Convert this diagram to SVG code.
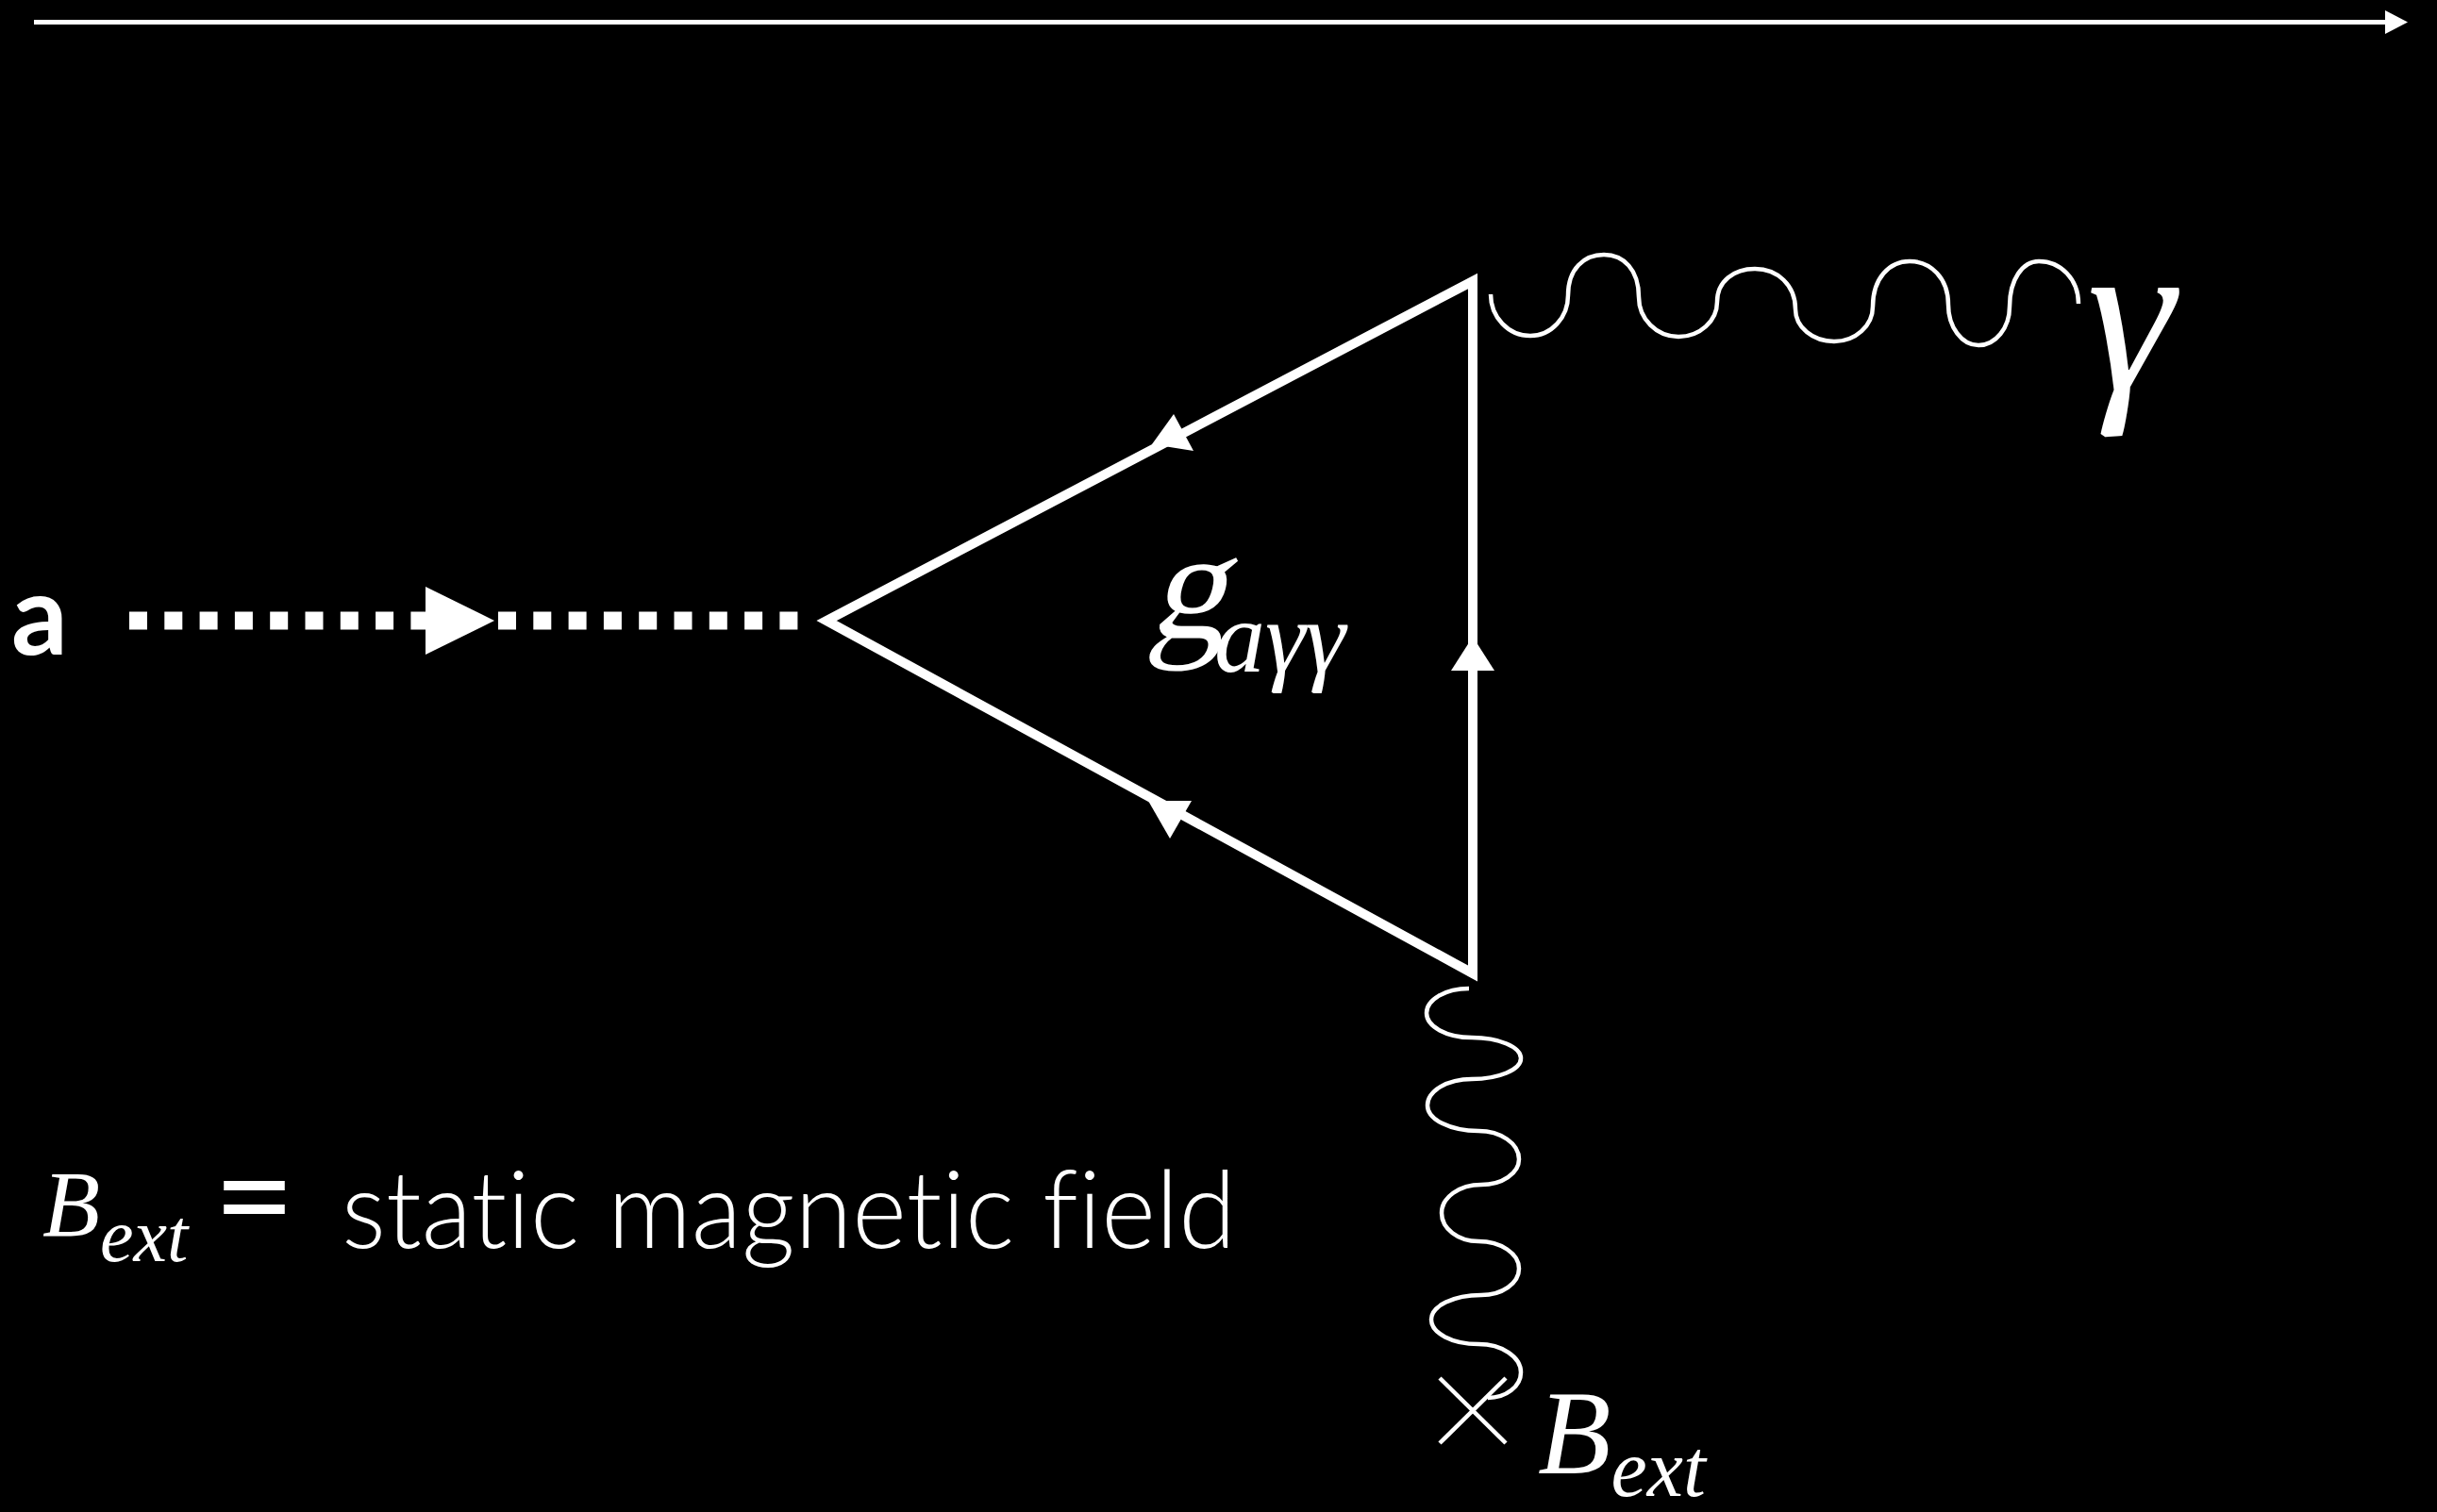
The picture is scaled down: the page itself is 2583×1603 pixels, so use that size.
<svg xmlns="http://www.w3.org/2000/svg" width="2583" height="1603" viewBox="0 0 2583 1603">
<style>
.ln{stroke:#fff;fill:none}
.ah{fill:#fff;stroke:none}
.it{font-family:"Liberation Serif","Times New Roman",serif;font-style:italic;fill:#fff}
.rm{font-family:"Liberation Serif","Times New Roman",serif;fill:#fff}
.sans{font-family:Lato,"Open Sans",sans-serif;fill:#fff;font-variant-ligatures:none;font-feature-settings:"liga" 0}
</style>
<rect x="0" y="0" width="2583" height="1603" fill="#000"/>
<g id="connectors">
  <g id="time-axis">
    <line class="ln" x1="36" y1="23.5" x2="2530" y2="23.5" stroke-width="5"/>
    <polygon class="ah" points="2528,11 2552,23.5 2528,36"/>
  </g>
  <g id="axion-line">
    <line class="ln" x1="137" y1="658" x2="455" y2="658" stroke-width="19" stroke-dasharray="19 18.3"/>
    <line class="ln" x1="528" y1="658" x2="847" y2="658" stroke-width="19" stroke-dasharray="19 18.3"/>
    <polygon class="ah" points="451,622 524,658 451,694"/>
  </g>
  <g id="fermion-loop">
    <path class="ln" d="M1561 1032 L876 658 L1561 298 Z" stroke-width="10" stroke-linejoin="miter" stroke-miterlimit="6"/>
    <polygon class="ah" points="1244,439 1221,471 1265,478"/>
    <polygon class="ah" points="1217,849 1263,849 1240,889"/>
    <polygon class="ah" points="1561,675 1538,711 1584,711"/>
  </g>
  <g id="photon-out">
    <path class="ln" stroke-width="4.5" d="M1580 312 C1580 336.3 1598.8 356 1622 356 C1644.1 356 1662 336.7 1662 313 C1662 285 1679 270 1700 270 C1721 270 1737 286 1737 315 C1737 338.2 1755.8 357 1779 357 C1801.6 357 1820 340.4 1820 320 C1820 298 1837.9 285 1860 285 C1883.7 285 1903 302 1903 328 C1903 346.8 1921.4 362 1944 362 C1966.6 362 1985 345.4 1985 325 C1985 295 2002.5 277 2024 277 C2046.6 277 2065 295 2065 323 C2065 346.7 2079.3 366 2097 366 C2115.2 366 2130 347.6 2130 325 C2130 296 2143.9 277 2161 277 C2184.2 277 2203 296 2203 322"/>
  </g>
  <g id="photon-ext">
    <path class="ln" stroke-width="4.5" d="M1557 1048 C1532.2 1048 1512 1059.6 1512 1074 C1512 1088.4 1533.5 1100 1560 1100 C1588.7 1100 1612 1109.9 1612 1122 C1612 1134.1 1588.7 1144 1560 1144 C1534.1 1144 1513 1156.5 1513 1172 C1513 1186.9 1537.2 1199 1567 1199 C1590.7 1199 1610 1212.4 1610 1229 C1610 1243.9 1592.1 1256 1570 1256 C1546.8 1256 1528 1269.4 1528 1286 C1528 1302.6 1545.5 1316 1567 1316 C1590.7 1316 1610 1329 1610 1345 C1610 1360.5 1592.1 1373 1570 1373 C1540.7 1373 1517 1384.6 1517 1399 C1517 1413.4 1539.4 1425 1567 1425 C1591.8 1425 1612 1438.4 1612 1455 C1612 1469.9 1596.3 1482 1577 1482"/>
  </g>
</g>
<g id="node-a">
  <text class="sans" x="12" y="694" font-size="118" font-weight="700">a</text>
</g>
<g id="node-coupling">
  <text class="rm" transform="translate(1216 676) skewX(-14)" x="0" y="0" font-size="165">g</text>
  <text class="it" x="1287" y="712" font-size="108">aγγ</text>
</g>
<g id="node-gamma">
  <text class="it" x="2212" y="413" font-size="235">γ</text>
</g>
<g id="node-bext">
  <line class="ln" x1="1526" y1="1461" x2="1596" y2="1530" stroke-width="4.5"/>
  <line class="ln" x1="1596" y1="1461" x2="1526" y2="1530" stroke-width="4.5"/>
  <text class="it" x="1630" y="1562" font-size="127">B<tspan font-size="86" dy="24">ext</tspan></text>
</g>
<g id="legend">
  <text class="it" x="45" y="1310" font-size="100">B<tspan font-size="80" dy="27">ext</tspan></text>
  <text class="sans" x="226" y="1320" font-size="150" font-weight="400">=</text>
  <text class="sans" x="362" y="1323" font-size="115" font-weight="300" textLength="948" lengthAdjust="spacingAndGlyphs">static magnetic field</text>
</g>
</svg>
